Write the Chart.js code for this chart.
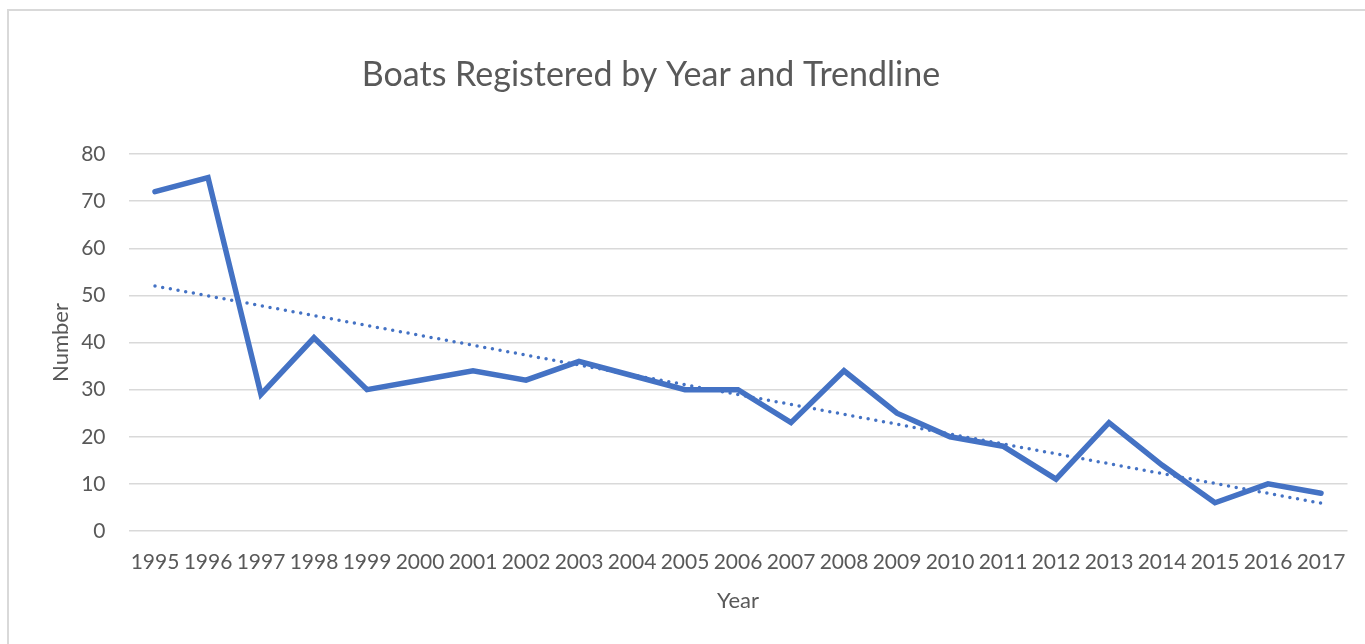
<!DOCTYPE html>
<html>
<head>
<meta charset="utf-8">
<title>Boats Registered by Year and Trendline</title>
<script src="https://cdn.jsdelivr.net/npm/chart.js@4/dist/chart.umd.min.js"></script>
<style>
  html, body { margin: 0; padding: 0; background: #fff; overflow: hidden; }
  #frame {
    position: absolute; left: 7px; top: 9px;
    width: 1400px; height: 700px;
    border: 2px solid #d9d9d9;
  }
  #myChart { position: absolute; left: 0; top: 0; }
</style>
</head>
<body>
<div id="frame"></div>
<canvas id="myChart" width="1365" height="644"></canvas>
<script>
const years = ['1995', '1996', '1997', '1998', '1999', '2000', '2001', '2002', '2003', '2004', '2005', '2006',
  '2007', '2008', '2009', '2010', '2011', '2012', '2013', '2014', '2015', '2016', '2017'];
const boats = [72, 75, 29, 41, 30, 32, 34, 32, 36, 33, 30, 30, 23, 34, 25, 20, 18, 11, 23, 14, 6, 10, 8];
// linear trendline, only its two ends are kept; spanGaps joins them
const trendStart = 52;
const trendEnd = 5.9;
const yTicks = [0, 10, 20, 30, 40, 50, 60, 70, 80];

const trend = years.map((y, i) => i === 0 ? trendStart : (i === years.length - 1 ? trendEnd : null));

const fonte = 'Lato, "Open Sans", sans-serif';
const cinza = '#595959';

// title drawn by hand so it can sit left of the canvas centre
const tituloPlugin = {
  id: 'tituloPlugin',
  afterDraw(chart) {
    const ctx = chart.ctx;
    ctx.save();
    ctx.font = '34px ' + fonte;
    ctx.fillStyle = cinza;
    ctx.textAlign = 'center';
    ctx.textBaseline = 'alphabetic';
    ctx.fillText('Boats Registered by Year and Trendline', 651, 86);
    ctx.restore();
  }
};

function plotarGrafico() {
  const ctx = document.getElementById('myChart');
  new Chart(ctx, {
    type: 'line',
    data: {
      labels: years,
      datasets: [{
        label: 'Boats registered',
        data: boats,
        borderColor: '#4472C4',
        borderWidth: 5.5,
        borderCapStyle: 'round',
        borderJoinStyle: 'miter',
        pointRadius: 0,
        tension: 0,
        fill: false
      },
      {
        label: 'Linear trend',
        data: trend,
        spanGaps: true,
        borderColor: '#4472C4',
        borderWidth: 3.5,
        borderDash: [0, 7.8],
        borderCapStyle: 'round',
        pointRadius: 0,
        fill: false
      }]
    },
    options: {
      responsive: false,
      animation: false,
      layout: {
        padding: { top: 154, right: 17.5, bottom: 0, left: 0 }
      },
      scales: {
        x: {
          offset: true,
          grid: { display: false, drawTicks: false },
          border: { display: false },
          ticks: {
            autoSkip: false,
            maxRotation: 0,
            padding: 19,
            color: cinza,
            font: { family: fonte, size: 21 }
          },
          title: {
            display: true,
            text: 'Year',
            color: cinza,
            font: { family: fonte, size: 22 },
            padding: { top: 0, bottom: 30 }
          },
          afterFit(scale) { scale.height = 113; }
        },
        y: {
          min: 0,
          max: 80,
          afterBuildTicks(scale) { scale.ticks = yTicks.map(v => ({ value: v })); },
          grid: { color: '#d9d9d9', lineWidth: 1.5, drawTicks: false },
          border: { display: false },
          ticks: {
            padding: 23,
            color: cinza,
            font: { family: fonte, size: 21 }
          },
          title: {
            display: true,
            text: 'Number',
            color: cinza,
            font: { family: fonte, size: 22 },
            padding: { top: 48, bottom: 0 }
          },
          afterFit(scale) { scale.width = 128.5; }
        }
      },
      plugins: {
        legend: { display: false },
        title: { display: false },
        tooltip: { enabled: false }
      }
    },
    plugins: [tituloPlugin]
  });
}

plotarGrafico();
</script>
</body>
</html>
